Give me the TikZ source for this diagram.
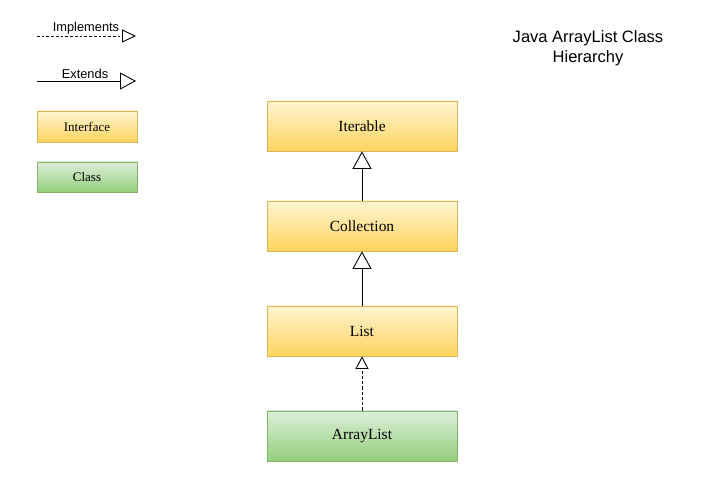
\documentclass[tikz,border=0pt]{standalone}
\usepackage{fontspec}
\setmainfont{Liberation Serif}
\newfontfamily\labelfont{Liberation Sans}
\usetikzlibrary{arrows.meta}
\definecolor{ifaceTop}{HTML}{FFF4D2}
\definecolor{ifaceBot}{HTML}{FFD45E}
\definecolor{ifaceLine}{HTML}{D6B656}
\definecolor{clsTop}{HTML}{DDEED9}
\definecolor{clsBot}{HTML}{94CF7C}
\definecolor{clsLine}{HTML}{82B366}
\tikzset{
  iface/.style={draw=ifaceLine, line width=0.45pt, top color=ifaceTop, bottom color=ifaceBot, font=\fontsize{8.8}{10}\selectfont},
  cls/.style={draw=clsLine, line width=0.45pt, top color=clsTop, bottom color=clsBot, font=\fontsize{8.8}{10}\selectfont},
  ext/.style={line width=0.5pt, -{Triangle[open, length=0.35cm, width=0.38cm]}},
  impl/.style={line width=0.5pt, dash pattern=on 1.8pt off 1.2pt, -{Triangle[open, length=0.25cm, width=0.26cm]}}
}
\begin{document}
\begin{tikzpicture}[x=0.02cm, y=-0.02cm]
\useasboundingbox (0,0) rectangle (718,482);
% legend
\coordinate (implA) at (37,36);
\coordinate (implB) at (136,36);
\draw[line width=0.5pt, dash pattern=on 1.5pt off 1.2pt, -{Triangle[open, length=0.28cm, width=0.26cm]}] (implA) -- (implB);
\node[font=\labelfont\fontsize{7.3}{9}\selectfont] (implLabel) at (86,28) {Implements};
\coordinate (extA) at (37,81);
\coordinate (extB) at (136,81);
\draw[line width=0.5pt, -{Triangle[open, length=0.32cm, width=0.34cm]}] (extA) -- (extB);
\node[font=\labelfont\fontsize{7.3}{9}\selectfont] (extLabel) at (85,74) {Extends};
\node[iface, minimum width=2cm, minimum height=0.62cm, font=\fontsize{7.4}{9}\selectfont] (legIface) at (87,126.5) {Interface};
\node[cls, minimum width=2cm, minimum height=0.6cm, font=\fontsize{7.4}{9}\selectfont] (legClass) at (87,177) {Class};
% title
\node[font=\labelfont\fontsize{9.4}{11.5}\selectfont, align=center] (title) at (588,48) {Java ArrayList Class\\Hierarchy};
% hierarchy
\node[iface, minimum width=3.8cm, minimum height=1cm] (iterable) at (362,126) {Iterable};
\node[iface, minimum width=3.8cm, minimum height=1cm] (collection) at (362,226) {Collection};
\node[iface, minimum width=3.8cm, minimum height=1cm] (list) at (362,331) {List};
\node[cls, minimum width=3.8cm, minimum height=1cm] (arraylist) at (362,436) {ArrayList};
\draw[ext] (collection.north) -- (iterable.south);
\draw[ext] (list.north) -- (collection.south);
\draw[impl] (arraylist.north) -- (list.south);
\end{tikzpicture}
\end{document}
